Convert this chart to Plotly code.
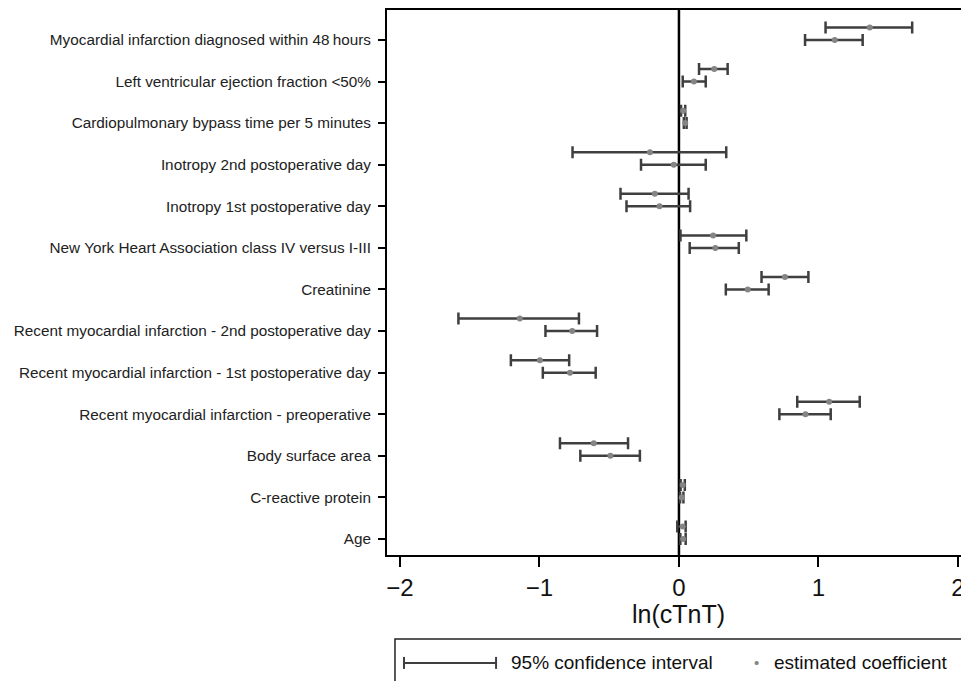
import plotly.graph_objects as go

categories = [
    "Age",
    "C-reactive protein",
    "Body surface area",
    "Recent myocardial infarction - preoperative",
    "Recent myocardial infarction - 1st postoperative day",
    "Recent myocardial infarction - 2nd postoperative day",
    "Creatinine",
    "New York Heart Association class IV versus I-III",
    "Inotropy 1st postoperative day",
    "Inotropy 2nd postoperative day",
    "Cardiopulmonary bypass time per 5 minutes",
    "Left ventricular ejection fraction <50%",
    "Myocardial infarction diagnosed within 48\u2009hours",
]

# upper estimate of each pair (drawn slightly above the category tick)
upper_est = [0.027, 0.027, -0.611, 1.077, -0.997, -1.141, 0.760, 0.245, -0.173, -0.208, 0.030, 0.253, 1.368]
upper_lo = [-0.012, 0.012, -0.853, 0.848, -1.205, -1.581, 0.592, 0.011, -0.419, -0.763, 0.015, 0.144, 1.051]
upper_hi = [0.048, 0.042, -0.365, 1.296, -0.787, -0.717, 0.928, 0.483, 0.069, 0.339, 0.045, 0.349, 1.672]

# lower estimate of each pair (drawn at the category tick)
lower_est = [0.030, 0.020, -0.491, 0.907, -0.781, -0.765, 0.493, 0.261, -0.139, -0.037, 0.045, 0.107, 1.117]
lower_lo = [0.010, 0.008, -0.707, 0.720, -0.976, -0.957, 0.336, 0.077, -0.376, -0.272, 0.035, 0.027, 0.904]
lower_hi = [0.048, 0.032, -0.280, 1.088, -0.597, -0.587, 0.643, 0.429, 0.080, 0.192, 0.055, 0.192, 1.317]

x_ticks = [-2, -1, 0, 1, 2]
x_tick_labels = ["\u22122", "\u22121", "0", "1", "2"]
x_title = "ln(cTnT)"

FONT = "Liberation Sans, Arial, sans-serif"
BAR = "#3f3f3f"
DOT = "#858585"

idx = list(range(len(categories)))
fig = go.Figure()

for est, lo, hi, off in [(upper_est, upper_lo, upper_hi, 0.3), (lower_est, lower_lo, lower_hi, 0.0)]:
    fig.add_trace(go.Scatter(
        x=est,
        y=[i + off for i in idx],
        mode="markers",
        marker=dict(color=DOT, size=6),
        error_x=dict(
            type="data", symmetric=False,
            array=[h - e for h, e in zip(hi, est)],
            arrayminus=[e - l for e, l in zip(est, lo)],
            color=BAR, thickness=2.5, width=6,
        ),
        showlegend=False,
        hoverinfo="skip",
    ))

fig.add_shape(type="line", xref="x", yref="paper", x0=0, x1=0, y0=0, y1=1,
              line=dict(color="black", width=2.5), layer="below")

# axis title placed under the tick labels
fig.add_annotation(xref="x", yref="paper", x=0, y=-0.108, text=x_title,
                   showarrow=False, xanchor="center", yanchor="middle",
                   font=dict(family=FONT, size=25, color="#111"))

# manual legend (box runs off the page like the reference)
fig.add_shape(type="rect", xref="paper", yref="paper", x0=0.0139, x1=1.2, y0=-0.154, y1=-0.4,
              line=dict(color="#222", width=1.5))
lx0, lx1, ly = 0.0296, 0.19, -0.198
fig.add_shape(type="line", xref="paper", yref="paper", x0=lx0, x1=lx1, y0=ly, y1=ly,
              line=dict(color=BAR, width=2))
for xx in (lx0, lx1):
    fig.add_shape(type="line", xref="paper", yref="paper", x0=xx, x1=xx, y0=ly - 0.011, y1=ly + 0.011,
                  line=dict(color=BAR, width=2))
fig.add_annotation(xref="paper", yref="paper", x=0.212, y=ly, text="95% confidence interval",
                   showarrow=False, xanchor="left", yanchor="middle",
                   font=dict(family=FONT, size=19, color="#111"))
fig.add_annotation(xref="paper", yref="paper", x=0.643, y=ly, text="\u2022",
                   showarrow=False, xanchor="center", yanchor="middle",
                   font=dict(family=FONT, size=15, color=DOT))
fig.add_annotation(xref="paper", yref="paper", x=0.671, y=ly, text="estimated coefficient",
                   showarrow=False, xanchor="left", yanchor="middle",
                   font=dict(family=FONT, size=19, color="#111"))

fig.update_layout(
    width=961, height=681,
    margin=dict(l=387, r=0, t=10, b=126, autoexpand=False),
    paper_bgcolor="white", plot_bgcolor="white",
    font=dict(family=FONT, color="#111"),
    xaxis=dict(
        range=[-2.093, 2.022], tickvals=x_ticks, ticktext=x_tick_labels,
        showgrid=False, zeroline=False, showline=True, linecolor="black", linewidth=2,
        mirror=True, ticks="outside", ticklen=10, tickwidth=1.5, tickcolor="black",
        tickfont=dict(size=24, family=FONT, color="#111"), ticklabelstandoff=0,
        ticklabeloverflow="allow",
    ),
    yaxis=dict(
        range=[-0.385, 12.72], tickvals=idx, ticktext=categories,
        showgrid=False, zeroline=False, showline=True, linecolor="black", linewidth=2,
        mirror=False, ticks="outside", ticklen=7, tickwidth=1.5, tickcolor="black",
        tickfont=dict(size=15.3, family=FONT, color="#222"), ticklabelstandoff=4,
    ),
)

fig.write_html(
    "out.html",
    config={"displayModeBar": False},
    post_script="document.body.style.margin='0';document.body.style.overflow='hidden';",
)
